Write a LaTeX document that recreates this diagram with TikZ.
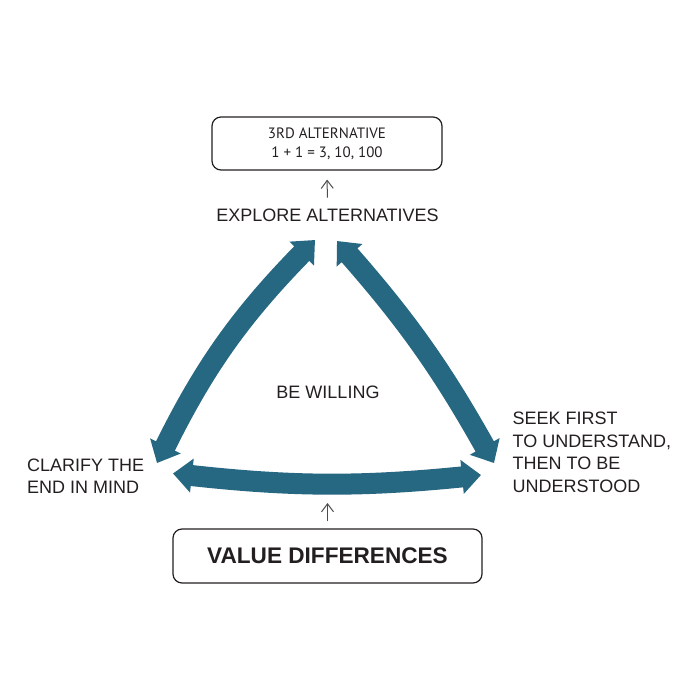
\documentclass[tikz,border=0pt]{standalone}
\usepackage{fontspec}
\setmainfont{Liberation Sans}
\newfontfamily\altfont{PT Sans}
\usetikzlibrary{arrows.meta}
\definecolor{habitblue}{RGB}{38,103,130}
\definecolor{inkgrey}{RGB}{35,31,32}
\tikzset{
  bigarrow/.style={draw=habitblue, line width=10.5pt,
    {Triangle[length=9.5pt,width=16.5pt]}-{Triangle[length=9.5pt,width=16.5pt]}},
  pointer/.style={draw=black!70, line width=0.5pt,
    -{Straight Barb[length=4pt,width=6pt]}},
  roundbox/.style={draw=inkgrey, line width=0.6pt, rounded corners=4.5pt},
  habitlabel/.style={inner sep=0pt, text=inkgrey,
    font=\fontsize{9}{11.2}\selectfont},
}
\begin{document}
\begin{tikzpicture}[x=0.5pt,y=-0.5pt]
  \useasboundingbox (0,0) rectangle (700,700);
  \node[roundbox, minimum width=115pt, minimum height=26.5pt, align=center,
    text=inkgrey, font=\altfont\fontsize{7.5}{9.4}\selectfont] (alt) at (327,143.5)
    {3RD ALTERNATIVE\\1 + 1 = 3, 10, 100};
  \node[roundbox, minimum width=154.5pt, minimum height=27pt, text=inkgrey,
    font=\bfseries\fontsize{11.3}{13}\selectfont] (values) at (327.5,556)
    {VALUE DIFFERENCES};
  \node[habitlabel, anchor=base] (explore) at (327.5,221.7) {EXPLORE ALTERNATIVES};
  \node[habitlabel, anchor=base] (willing) at (328,398) {BE WILLING};
  \node[habitlabel, anchor=north west, align=left] (clarify) at (26.7,458.5)
    {CLARIFY THE\\END IN MIND};
  \node[habitlabel, anchor=north west, align=left] (seek) at (512.3,412)
    {SEEK FIRST\\TO UNDERSTAND,\\THEN TO BE\\UNDERSTOOD};
  % arrow tips
  \coordinate (endtip) at (157,463);
  \coordinate (altleft) at (315,240);
  \coordinate (altright) at (337,241);
  \coordinate (seektip) at (494,463);
  \coordinate (valleft) at (173,473.5);
  \coordinate (valright) at (481,475);
  \coordinate (valuestip) at (327.5,503);
  \begin{scope}
    \draw[bigarrow] (endtip) to[bend left=9] (altleft);
    \draw[bigarrow] (altright) to[bend left=6] (seektip);
    \draw[bigarrow] (valleft) to[bend right=6] (valright);
  \end{scope}
  \draw[pointer, shorten <=5.5pt, shorten >=4.5pt] (explore.north) -- (alt.south);
  \draw[pointer, shorten <=3.5pt] (values.north) -- (valuestip);
\end{tikzpicture}
\end{document}
